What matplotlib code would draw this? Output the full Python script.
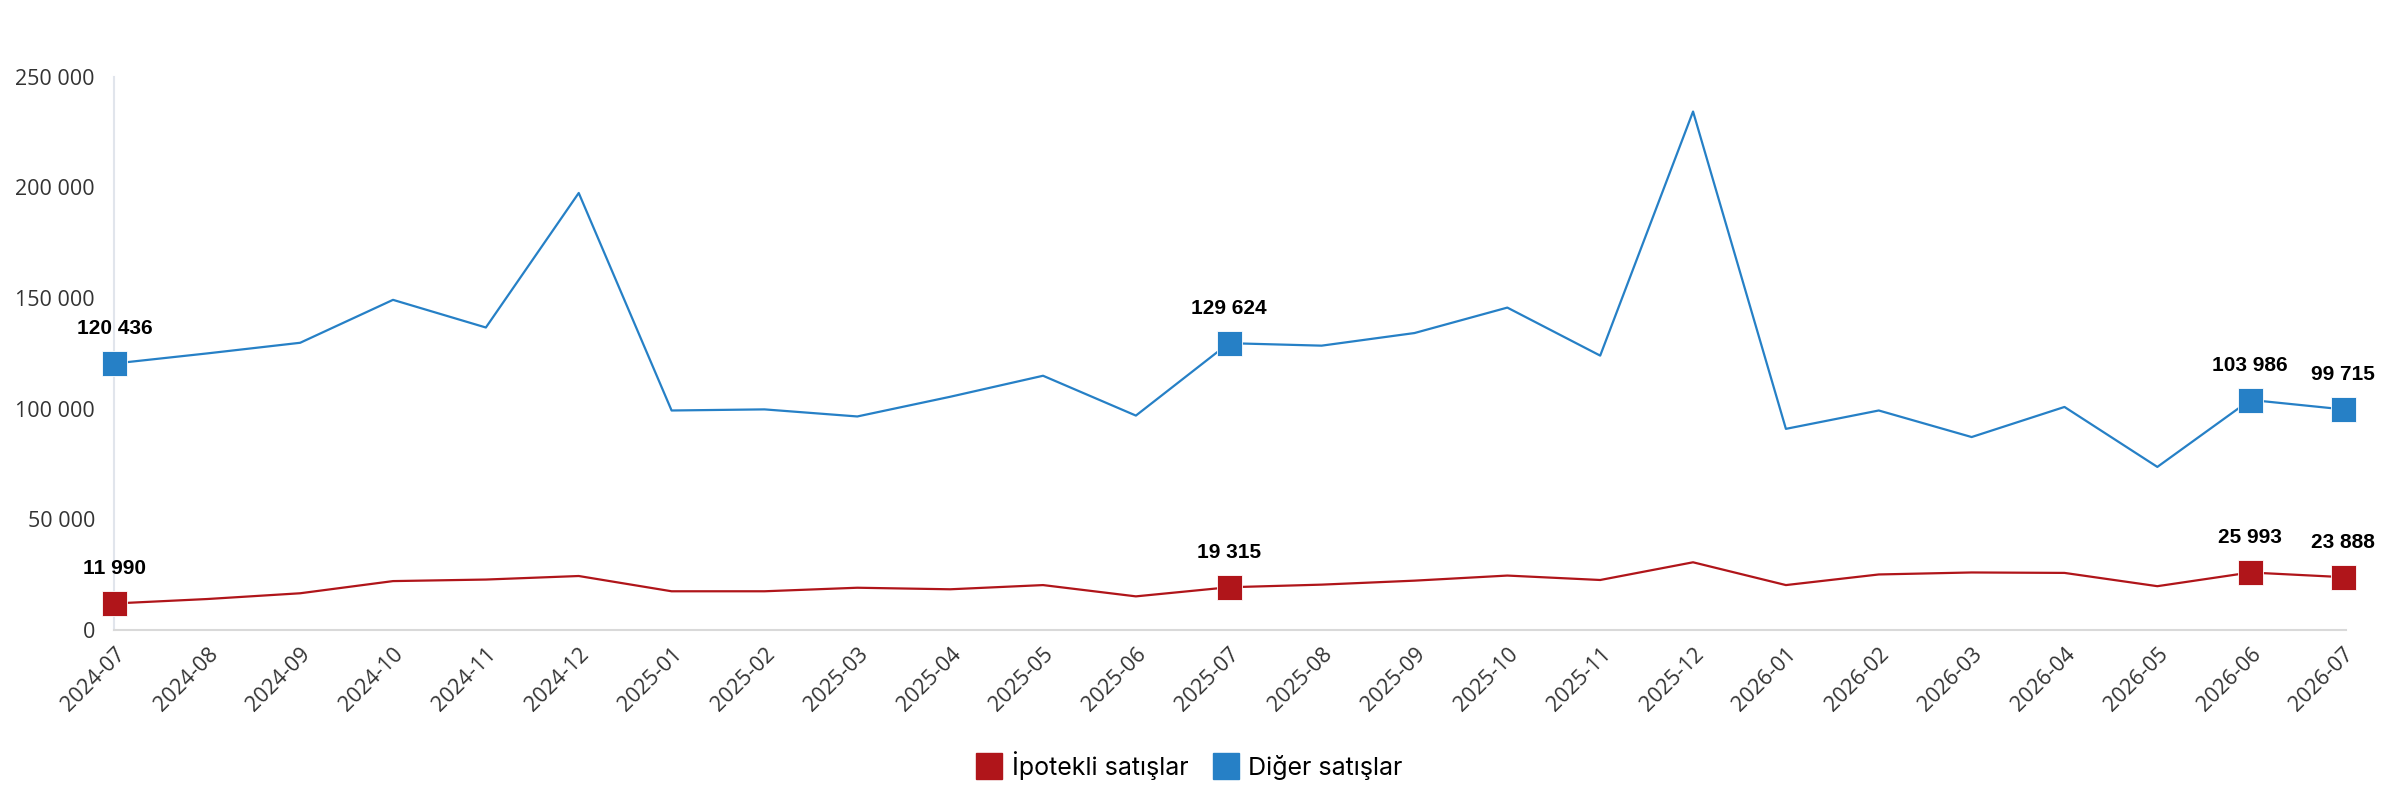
import matplotlib
matplotlib.use('Agg')
import matplotlib.pyplot as plt
from matplotlib.lines import Line2D

# aylar
months = ['2024-07', '2024-08', '2024-09', '2024-10', '2024-11', '2024-12',
          '2025-01', '2025-02', '2025-03', '2025-04', '2025-05', '2025-06',
          '2025-07', '2025-08', '2025-09', '2025-10', '2025-11', '2025-12',
          '2026-01', '2026-02', '2026-03', '2026-04', '2026-05', '2026-06',
          '2026-07']

# İpotekli satışlar
ipotekli = [11990, 14000, 16600, 22100, 22800, 24400,
            17500, 17500, 19100, 18400, 20300, 15200,
            19315, 20500, 22300, 24600, 22600, 30600,
            20300, 25100, 26000, 25800, 19800, 25993,
            23888]

# Diğer satışlar
diger = [120436, 125000, 129800, 149200, 136700, 197500,
         99200, 99700, 96500, 105400, 114900, 96900,
         129624, 128500, 134200, 145700, 124000, 234300,
         90900, 99200, 87200, 100800, 73700, 103986,
         99715]

# etiketli noktalar
labeled = [0, 12, 23, 24]

red = '#B0151A'
blue = '#2680C6'

fig = plt.figure(figsize=(23.84, 8), dpi=100)
ax = fig.add_axes([0.048, 0.2125, 0.936, 0.6915])

x = list(range(len(months)))
ax.plot(x, ipotekli, color=red, lw=1.6)
ax.plot(x, diger, color=blue, lw=1.6)

for i in labeled:
    for vals, c in ((ipotekli, red), (diger, blue)):
        ax.plot(x[i], vals[i], marker='s', ms=18, color=c, mec='white', mew=0.6,
                ls='none', clip_on=False, zorder=5)
        txt = format(vals[i], ',').replace(',', ' ')
        ax.annotate(txt, (x[i], vals[i]), xytext=(0, 18), textcoords='offset points',
                    ha='center', va='bottom', fontsize=15, fontweight='bold',
                    family='Liberation Sans', color='black')

ax.set_xlim(0, 24.03)
ax.set_ylim(0, 250000)
ax.set_yticks([0, 50000, 100000, 150000, 200000, 250000])
ax.set_yticklabels([format(v, ',').replace(',', ' ') for v in ax.get_yticks().astype(int)],
                   family='Open Sans', fontsize=15.5, color='#333333')
ax.set_xticks(x)
ax.set_xticklabels(months, rotation=45, ha='right', rotation_mode='anchor',
                   family='Open Sans', fontsize=15.5, color='#333333')
ax.tick_params(length=0, pad=14)
ax.tick_params(axis='x', pad=10)

for s in ['top', 'right']:
    ax.spines[s].set_visible(False)
ax.spines['left'].set_color('#E1E5EC')
ax.spines['bottom'].set_color('#D9D9D9')
ax.spines['left'].set_linewidth(1.5)
ax.spines['bottom'].set_linewidth(1.5)
ax.spines['left'].set_zorder(0)

handles = [Line2D([], [], marker='s', ls='none', ms=19, color=red),
           Line2D([], [], marker='s', ls='none', ms=19, color=blue)]
fig.legend(handles, ['İpotekli satışlar', 'Diğer satışlar'], loc='center',
           bbox_to_anchor=(0.499, 0.043), ncol=2, frameon=False,
           prop={'family': 'Inter', 'size': 18}, handletextpad=0.4,
           columnspacing=1.0, handlelength=1.0)

fig.savefig('out.png', dpi=100, facecolor='white')
